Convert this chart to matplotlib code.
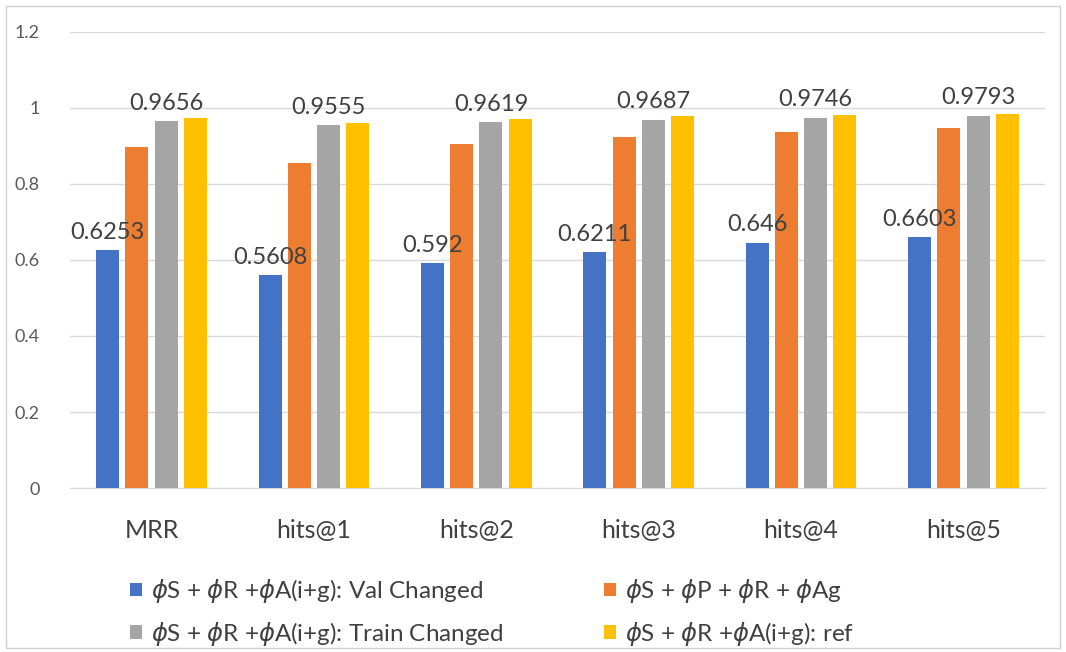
import numpy as np
import matplotlib.pyplot as plt
from matplotlib.patches import Rectangle

plt.rcParams['font.family'] = ['Lato', 'DejaVu Sans']
plt.rcParams['mathtext.fontset'] = 'dejavusans'

categories = ['MRR', 'hits@1', 'hits@2', 'hits@3', 'hits@4', 'hits@5']
val_changed = [0.6253, 0.5608, 0.592, 0.6211, 0.646, 0.6603]
with_p = [0.897, 0.855, 0.905, 0.924, 0.937, 0.947]
train_changed = [0.9656, 0.9555, 0.9619, 0.9687, 0.9746, 0.9793]
ref = [0.974, 0.961, 0.971, 0.979, 0.981, 0.984]

series_names = [r'$\phi$S + $\phi$R +$\phi$A(i+g): Val Changed',
                r'$\phi$S + $\phi$P + $\phi$R + $\phi$Ag',
                r'$\phi$S + $\phi$R +$\phi$A(i+g): Train Changed',
                r'$\phi$S + $\phi$R +$\phi$A(i+g): ref']
colors = ['#4472c4', '#ed7d31', '#a5a5a5', '#ffc000']

fig = plt.figure(figsize=(10.66, 6.52), dpi=100)
ax = fig.add_axes([0.066, 0.2515, 0.914, 0.6995])

x = np.arange(len(categories))
width = 0.142
step = 0.18
all_series = [val_changed, with_p, train_changed, ref]
bars = []
for i, vals in enumerate(all_series):
    b = ax.bar(x + (i - 1.5) * step, vals, width, color=colors[i],
               label=series_names[i], zorder=3)
    bars.append(b)

# value labels only on the blue and gray series
for idx in (0, 2):
    for rect, v in zip(bars[idx], all_series[idx]):
        ax.text(rect.get_x() + rect.get_width() / 2, v + 0.047, f'{v:g}',
                ha='center', va='center', fontsize=17, color='#404040', zorder=4)

ax.set_xlim(-0.5, 5.5)
ax.set_ylim(0, 1.2)
ax.set_yticks([0, 0.2, 0.4, 0.6, 0.8, 1.0, 1.2])
ax.set_yticklabels(['0', '0.2', '0.4', '0.6', '0.8', '1', '1.2'])
ax.set_xticks(x)
ax.set_xticklabels(categories)
ax.tick_params(axis='y', length=0, pad=22, labelsize=13, labelcolor='#595959')
ax.tick_params(axis='x', length=0, pad=22, labelsize=18, labelcolor='#404040')
ax.grid(axis='y', color='#d9d9d9', linewidth=1, zorder=0)
for s in ['top', 'right', 'left']:
    ax.spines[s].set_visible(False)
ax.spines['bottom'].set_color('#d9d9d9')

# legend filled row by row: blue, orange / gray, yellow
order = [0, 2, 1, 3]
fig.legend(handles=[bars[i] for i in order], labels=[series_names[i] for i in order],
           loc='lower left', bbox_to_anchor=(0.101, -0.027), ncol=2, frameon=False,
           fontsize=17.5, handlelength=0.5, handleheight=0.5,
           handletextpad=0.4, columnspacing=4.1, labelspacing=0.6,
           labelcolor='#404040')

fig.patches.append(Rectangle((0.006, 0.006), 0.988, 0.985, transform=fig.transFigure,
                             fill=False, edgecolor='#d0d0d0', linewidth=1))

fig.savefig('out.png', dpi=100)
